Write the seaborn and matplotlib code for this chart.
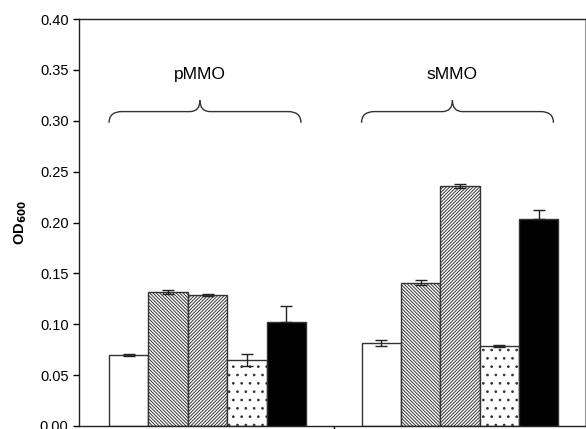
import numpy as np
import pandas as pd
import seaborn as sns
import matplotlib
matplotlib.use('Agg')
import matplotlib.pyplot as plt
from matplotlib.path import Path
from matplotlib.patches import PathPatch

# values
enzymes = ['pMMO', 'sMMO']
conditions = ['c1', 'c2', 'c3', 'c4', 'c5']
pmmo_od = [0.070, 0.132, 0.129, 0.065, 0.102]
pmmo_err = [0.001, 0.002, 0.001, 0.006, 0.016]
smmo_od = [0.082, 0.141, 0.236, 0.079, 0.203]
smmo_err = [0.003, 0.002, 0.002, 0.001, 0.009]

faces = ['white', 'white', 'white', 'white', 'black']
hatches = ['', '\\' * 10, '/' * 10, '..', '']

data = pd.DataFrame({
    'enzyme': np.repeat(enzymes, len(conditions)),
    'condition': conditions * len(enzymes),
    'od': pmmo_od + smmo_od,
    'err': pmmo_err + smmo_err,
})

sns.set_style('ticks')
plt.rcParams['font.family'] = ['Liberation Sans', 'DejaVu Sans']
plt.rcParams['hatch.linewidth'] = 0.7
for key in ['text.color', 'axes.labelcolor', 'xtick.color', 'ytick.color']:
    plt.rcParams[key] = 'black'

fig = plt.figure(figsize=(5.86, 4.29), dpi=100)
ax = fig.add_axes([0.1348, 0.007, 0.8635, 0.9487])

sns.barplot(data=data, x='enzyme', y='od', hue='condition', order=enzymes,
            hue_order=conditions, width=0.78, errorbar=None, legend=False,
            palette=['white'] * 5, edgecolor='#333333', linewidth=1.0, ax=ax)

bar_groups = list(ax.containers)
for i, cont in enumerate(bar_groups):
    xs, hs = [], []
    for bar in cont.patches:
        bar.set_facecolor(faces[i])
        bar.set_hatch(hatches[i])
        bar.set_edgecolor('#333333')
        xs.append(bar.get_x() + bar.get_width() / 2)
        hs.append(bar.get_height())
    errs = data[data['condition'] == conditions[i]].set_index('enzyme').loc[enzymes, 'err'].values
    # black bars hide the lower half of their error bar
    lower = np.zeros_like(errs) if faces[i] == 'black' else errs
    ax.errorbar(xs, hs, yerr=[lower, errs], fmt='none', ecolor='#222222',
                elinewidth=1.0, capsize=4, capthick=1.0, zorder=5)


def brace(ax, xl, xr, xt, y0, y1, y2):
    verts = [(xl, y0), (xl, y1), (xl + 0.05, y1),
             (xt - 0.04, y1), (xt, y1), (xt, y2),
             (xt, y1), (xt + 0.04, y1),
             (xr - 0.05, y1), (xr, y1), (xr, y0)]
    codes = [Path.MOVETO, Path.CURVE3, Path.CURVE3,
             Path.LINETO, Path.CURVE3, Path.CURVE3,
             Path.CURVE3, Path.CURVE3,
             Path.LINETO, Path.CURVE3, Path.CURVE3]
    ax.add_patch(PathPatch(Path(verts, codes), fill=False, lw=1.0, ec='#333333'))


for k, name in enumerate(enzymes):
    brace(ax, k - 0.39, k + 0.37, k - 0.03, 0.298, 0.309, 0.320)
    ax.text(k - 0.03, 0.345, name, ha='center', va='center', fontsize=12.5)

ax.set_xlim(-0.509, 1.495)
ax.set_ylim(0, 0.40)
ax.set_yticks(np.arange(0, 0.41, 0.05))
ax.set_yticklabels([f'{v:.2f}' for v in np.arange(0, 0.41, 0.05)], fontsize=10.5)
ax.set_xticks([0.5])
ax.set_xticklabels([''])
ax.set_xlabel('')
ax.set_ylabel('OD$_{\\mathbf{600}}$', fontsize=10.5, fontweight='bold', labelpad=8)
ax.tick_params(direction='out', length=4, width=1)

for side in ['top', 'right']:
    ax.spines[side].set_visible(True)
ax.spines['right'].set_color('#999999')
ax.spines['right'].set_linewidth(0.8)
for side in ['left', 'bottom', 'top']:
    ax.spines[side].set_linewidth(1.0)
    ax.spines[side].set_color('#222222')

fig.savefig('out.png', dpi=100)
